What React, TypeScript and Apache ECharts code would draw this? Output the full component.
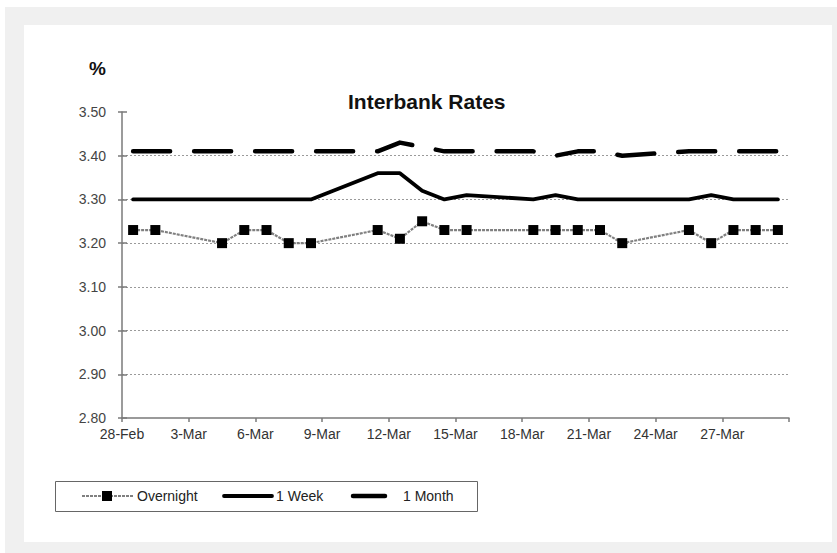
import React, { useEffect, useRef } from "react";
import * as echarts from "echarts";

const dates = ["28-Feb", "1-Mar", "4-Mar", "5-Mar", "6-Mar", "7-Mar", "8-Mar", "11-Mar", "12-Mar", "13-Mar", "14-Mar", "15-Mar", "18-Mar", "19-Mar", "20-Mar", "21-Mar", "22-Mar", "25-Mar", "26-Mar", "27-Mar", "28-Mar", "29-Mar"];
const overnight = [3.23, 3.23, 3.2, 3.23, 3.23, 3.2, 3.2, 3.23, 3.21, 3.25, 3.23, 3.23, 3.23, 3.23, 3.23, 3.23, 3.2, 3.23, 3.2, 3.23, 3.23, 3.23];
const oneWeek = [3.3, 3.3, 3.3, 3.3, 3.3, 3.3, 3.3, 3.36, 3.36, 3.32, 3.3, 3.31, 3.3, 3.31, 3.3, 3.3, 3.3, 3.3, 3.31, 3.3, 3.3, 3.3];
const oneMonth = [3.41, 3.41, 3.41, 3.41, 3.41, 3.41, 3.41, 3.41, 3.43, 3.42, 3.41, 3.41, 3.41, 3.4, 3.41, 3.41, 3.4, 3.41, 3.41, 3.41, 3.41, 3.41];
const xTickLabels = ["28-Feb", "3-Mar", "6-Mar", "9-Mar", "12-Mar", "15-Mar", "18-Mar", "21-Mar", "24-Mar", "27-Mar", ""];
const seriesNames = ["Overnight", "1 Week", "1 Month"];
const title = "Interbank Rates";
const unitLabel = "%";

const YEAR = 2013;
const MONTHS: Record<string, number> = { Feb: 1, Mar: 2 };
const START = Date.UTC(YEAR, 1, 28);
const DAY = 86400000;
function dayOffset(label: string): number {
  const [d, m] = label.split("-");
  return (Date.UTC(YEAR, MONTHS[m], Number(d)) - START) / DAY + 0.5;
}
const pairs = (vals: number[]) => dates.map((d, i) => [dayOffset(d), vals[i]]);

const FONT = "'Liberation Sans', Arial, sans-serif";
const GRID = "#9a9a9a";

export default function App() {
  const ref = useRef<HTMLDivElement>(null);
  useEffect(() => {
    if (!ref.current) return;
    const chart = echarts.init(ref.current, null, { renderer: "svg" });
    const legendY = 496;
    chart.setOption({
      animation: false,
      backgroundColor: "transparent",
      textStyle: { fontFamily: FONT },
      title: {
        text: title,
        left: 343,
        top: 86,
        textStyle: { fontSize: 21, fontWeight: "bold", color: "#111", fontFamily: FONT },
      },
      grid: { left: 122, right: 48, top: 112, bottom: 135, containLabel: false },
      xAxis: {
        type: "value",
        min: 0,
        max: 30,
        interval: 3,
        axisLine: { show: true, onZero: false, lineStyle: { color: "#7a7a7a", width: 1.5 } },
        axisTick: { show: true, length: 4, lineStyle: { color: "#7a7a7a", width: 1.5 } },
        axisLabel: {
          margin: 9,
          fontSize: 14,
          color: "#333",
          fontFamily: FONT,
          formatter: (v: number) => xTickLabels[Math.round(v / 3)] ?? "",
        },
        splitLine: { show: false },
      },
      yAxis: [
        {
          type: "value",
          min: 2.8,
          max: 3.5,
          interval: 0.1,
          axisLine: { show: true, lineStyle: { color: "#7a7a7a", width: 1.5 } },
          axisTick: { show: true, length: 4, lineStyle: { color: "#7a7a7a", width: 1.5 } },
          axisLabel: {
            margin: 16,
            fontSize: 14,
            color: "#444",
            fontFamily: FONT,
            formatter: (v: number) => v.toFixed(2),
          },
          splitLine: {
            show: true,
            lineStyle: {
              color: ["transparent", GRID, GRID, GRID, GRID, GRID, GRID, "transparent"],
              width: 1,
              type: [2, 2],
            },
          },
        },
        {
          type: "value",
          position: "left",
          min: 2.8,
          max: 3.5,
          interval: 0.1,
          axisLine: { show: false },
          axisTick: { show: true, inside: true, length: 5, lineStyle: { color: "#7a7a7a", width: 1.5 } },
          axisLabel: { show: false },
          splitLine: { show: false },
        },
      ],
      series: [
        {
          name: seriesNames[2],
          type: "line",
          data: pairs(oneMonth),
          showSymbol: false,
          symbol: "none",
          lineStyle: { color: "#000", width: 4.5, type: [37, 24], cap: "round", join: "round" },
          z: 3,
        },
        {
          name: seriesNames[1],
          type: "line",
          data: pairs(oneWeek),
          symbol: "none",
          lineStyle: { color: "#000", width: 3.8, cap: "round", join: "round" },
          z: 3,
        },
        {
          name: seriesNames[0],
          type: "line",
          data: pairs(overnight),
          symbol: "rect",
          symbolSize: 10,
          itemStyle: { color: "#000" },
          lineStyle: { color: "#808080", width: 2.2, type: [3, 1] },
          z: 4,
        },
      ],
      graphic: [
        {
          type: "text",
          x: 89,
          y: 68,
          style: { text: unitLabel, font: `bold 19px ${FONT}`, fill: "#111", textVerticalAlign: "middle" },
        },
        {
          type: "rect",
          shape: { x: 55.5, y: 481.5, width: 422, height: 30 },
          style: { fill: "none", stroke: "#666", lineWidth: 1 },
        },
        {
          type: "line",
          shape: { x1: 82, y1: legendY, x2: 133, y2: legendY },
          style: { stroke: "#808080", lineWidth: 2, lineDash: [3, 1] },
        },
        {
          type: "rect",
          shape: { x: 102, y: legendY - 5, width: 10, height: 10 },
          style: { fill: "#000" },
        },
        {
          type: "text",
          x: 137,
          y: legendY,
          style: { text: seriesNames[0], font: `14px ${FONT}`, fill: "#222", textVerticalAlign: "middle" },
        },
        {
          type: "line",
          shape: { x1: 224, y1: legendY, x2: 272, y2: legendY },
          style: { stroke: "#000", lineWidth: 3.8, lineCap: "round" },
        },
        {
          type: "text",
          x: 276,
          y: legendY,
          style: { text: seriesNames[1], font: `14px ${FONT}`, fill: "#222", textVerticalAlign: "middle" },
        },
        {
          type: "line",
          shape: { x1: 353, y1: legendY, x2: 385, y2: legendY },
          style: { stroke: "#000", lineWidth: 4.5, lineCap: "round" },
        },
        {
          type: "text",
          x: 403,
          y: legendY,
          style: { text: seriesNames[2], font: `14px ${FONT}`, fill: "#222", textVerticalAlign: "middle" },
        },
      ],
    });
    return () => chart.dispose();
  }, []);

  return (
    <div style={{ position: "absolute", left: 0, top: 0, width: 837, height: 553, background: "#fff" }}>
      <div style={{ position: "absolute", left: 5, top: 7, width: 832, height: 546, background: "#f0f0f0" }} />
      <div style={{ position: "absolute", left: 24, top: 25, width: 808, height: 517, background: "#fff" }} />
      <div ref={ref} style={{ position: "absolute", left: 0, top: 0, width: 837, height: 553 }} />
    </div>
  );
}
